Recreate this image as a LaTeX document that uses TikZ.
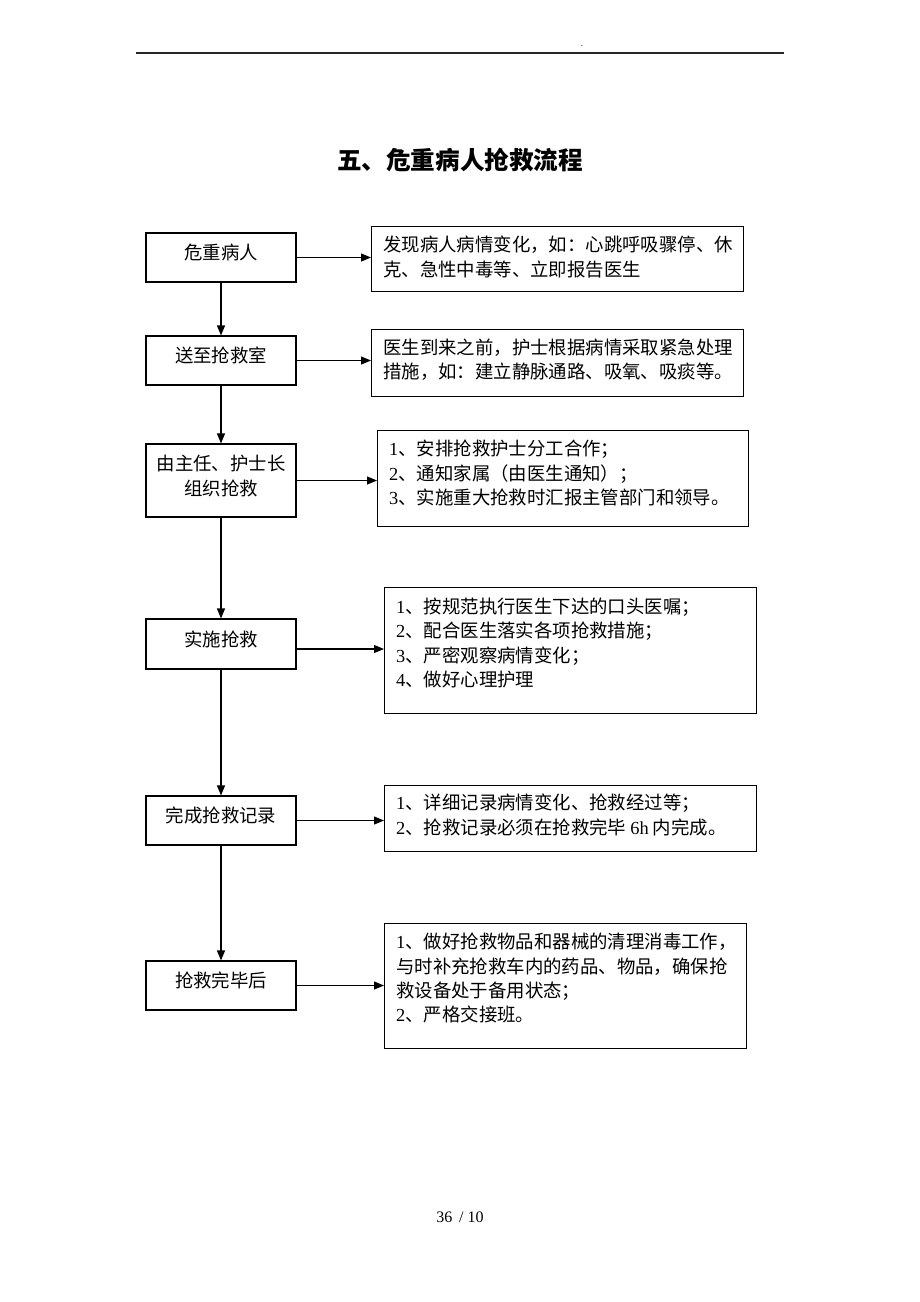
\documentclass[tikz,border=0pt]{standalone}
\usepackage{fontspec}
\setmainfont{Liberation Serif}
\newfontfamily\cjk{Noto Sans CJK SC}
\usetikzlibrary{arrows.meta}
\begin{document}
\begin{tikzpicture}[x=1pt,y=-1pt,
  lbox/.style={draw,line width=1.1pt,inner sep=0pt,minimum width=150pt},
  rbox/.style={draw,line width=1.1pt,inner sep=0pt,anchor=north west},
  ltext/.style={inner sep=0pt,align=center,font=\cjk\fontsize{18.4}{25}\selectfont},
  rtext/.style={inner sep=0pt,align=left,anchor=north west,font=\cjk\fontsize{18.4}{24.2}\selectfont},
  arr/.style={line width=1.1pt,-{Triangle[length=10pt,width=8pt]}}]
\useasboundingbox (0,0) rectangle (920,1302);
% header
\coordinate (hl) at (136,53);
\coordinate (hr) at (784,53);
\draw[line width=1.4pt,black!85] (hl) -- (hr);
\node[inner sep=0pt,font=\fontsize{9}{9}\selectfont] (dot) at (582,46) {.};
% title
\node[inner sep=0pt,font=\cjk\bfseries\fontsize{24.6}{28}\selectfont] (title) at (460,160) {五、危重病人抢救流程};
% left boxes
\node[lbox,minimum height=49pt] (b1) at (221,257.5) {};
\node[lbox,minimum height=49pt] (b2) at (221,360.5) {};
\node[lbox,minimum height=73pt] (b3) at (221,480.5) {};
\node[lbox,minimum height=50pt] (b4) at (221,644) {};
\node[lbox,minimum height=49pt] (b5) at (221,820.5) {};
\node[lbox,minimum height=49pt] (b6) at (221,985.5) {};
\node[ltext] (t1) at ([yshift=5pt]b1.center) {危重病人};
\node[ltext] (t2) at ([yshift=5pt]b2.center) {送至抢救室};
\node[ltext] (t3) at ([yshift=5pt]b3.center) {由主任、护士长\\组织抢救};
\node[ltext] (t4) at ([yshift=5pt]b4.center) {实施抢救};
\node[ltext] (t5) at ([yshift=5pt]b5.center) {完成抢救记录};
\node[ltext] (t6) at ([yshift=5pt]b6.center) {抢救完毕后};
% right boxes
\node[rbox,minimum width=372pt,minimum height=65pt] (r1) at (371,226) {};
\node[rbox,minimum width=372pt,minimum height=67pt] (r2) at (371,329) {};
\node[rbox,minimum width=371pt,minimum height=96pt] (r3) at (377,430) {};
\node[rbox,minimum width=372pt,minimum height=126pt] (r4) at (384,587) {};
\node[rbox,minimum width=372pt,minimum height=66pt] (r5) at (384,785) {};
\node[rbox,minimum width=362pt,minimum height=125pt] (r6) at (384,923) {};
\node[rtext] (s1) at ([xshift=12pt,yshift=-10pt]r1.north west) {发现病人病情变化，如：心跳呼吸骤停、休\\克、急性中毒等、立即报告医生};
\node[rtext] (s2) at ([xshift=12pt,yshift=-10pt]r2.north west) {医生到来之前，护士根据病情采取紧急处理\\措施，如：建立静脉通路、吸氧、吸痰等。};
\node[rtext] (s3) at ([xshift=12pt,yshift=-10pt]r3.north west) {\textrm{1}、安排抢救护士分工合作；\\\textrm{2}、通知家属（由医生通知）；\\\textrm{3}、实施重大抢救时汇报主管部门和领导。};
\node[rtext] (s4) at ([xshift=12pt,yshift=-11pt]r4.north west) {\textrm{1}、按规范执行医生下达的口头医嘱；\\\textrm{2}、配合医生落实各项抢救措施；\\\textrm{3}、严密观察病情变化；\\\textrm{4}、做好心理护理};
\node[rtext] (s5) at ([xshift=12pt,yshift=-9pt]r5.north west) {\textrm{1}、详细记录病情变化、抢救经过等；\\\textrm{2}、抢救记录必须在抢救完毕 \textrm{6h} 内完成。};
\node[rtext] (s6) at ([xshift=12pt,yshift=-10pt]r6.north west) {\textrm{1}、做好抢救物品和器械的清理消毒工作，\\与时补充抢救车内的药品、物品，确保抢\\救设备处于备用状态；\\\textrm{2}、严格交接班。};
% vertical arrows
\draw[arr] (b1.south) -- (b2.north);
\draw[arr] (b2.south) -- (b3.north);
\draw[arr] (b3.south) -- (b4.north);
\draw[arr] (b4.south) -- (b5.north);
\draw[arr] (b5.south) -- (b6.north);
% horizontal arrows
\draw[arr] (b1.east) -- (b1.east -| r1.west);
\draw[arr] (b2.east) -- (b2.east -| r2.west);
\draw[arr] (b3.east) -- (b3.east -| r3.west);
\path ([yshift=-5pt]b4.east) coordinate (p4);
\draw[arr] (p4) -- (p4 -| r4.west);
\draw[arr] (b5.east) -- (b5.east -| r5.west);
\draw[arr] (b6.east) -- (b6.east -| r6.west);
% footer
\node[inner sep=0pt,font=\fontsize{16}{18}\selectfont] (foot) at (460,1217) {36 \,/ 10};
\end{tikzpicture}
\end{document}
